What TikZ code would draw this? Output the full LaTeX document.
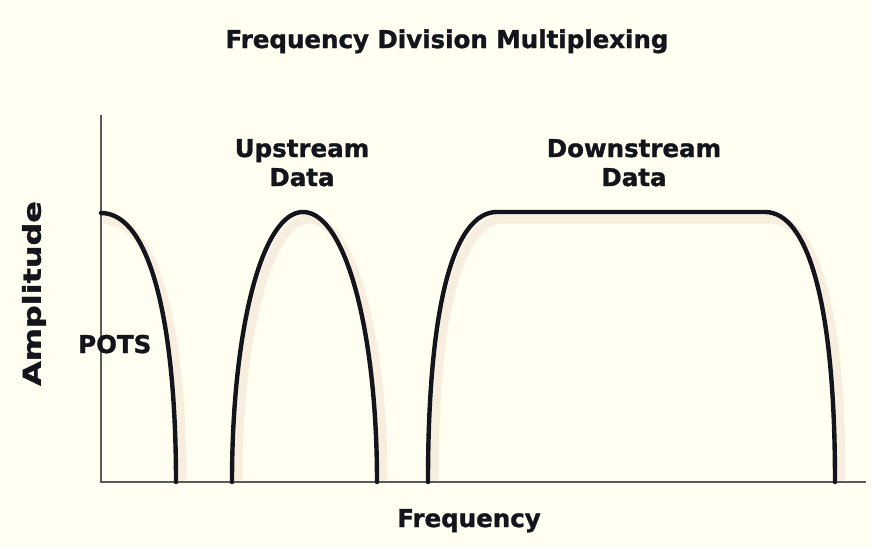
\documentclass[tikz,border=0pt]{standalone}
\usepackage{fontspec}
\setmainfont[BoldFeatures={FakeBold=1.2}]{DejaVu Sans}
\definecolor{paper}{HTML}{FFFEF0}
\definecolor{ink}{HTML}{14141C}
\definecolor{axisgray}{HTML}{5A5A5A}
\definecolor{glow}{HTML}{F8EEDF}
\begin{document}
\begin{tikzpicture}[x=1pt,y=-1pt,
  label/.style={font=\fontsize{24.5}{29}\selectfont\bfseries, text=ink, inner sep=0pt},
  band/.style={draw=ink, line width=4.4pt, line cap=round, line join=round},
  bandshadow/.style={draw=glow, line width=9pt, line cap=round},
  axisline/.style={draw=axisgray, line width=1.6pt}]
  % page
  \fill[paper] (0,0) rectangle (871,547);
  \useasboundingbox (0,0) rectangle (871,547);

  % soft shadows under the spectrum bands
  \begin{scope}[shift={(6,7)}]
    \draw[bandshadow] (101,213) .. controls (150,213) and (176,330) .. (176,470);
    \draw[bandshadow] (232,470) .. controls (232,330) and (262,212) .. (303,212)
                      .. controls (345,212) and (377,330) .. (377,470);
    \draw[bandshadow] (428,470) .. controls (428,300) and (455,212) .. (497,212)
                      -- (765,212) .. controls (807,212) and (835,300) .. (835,470);
  \end{scope}

  % axes
  \coordinate (origin) at (101,482);
  \coordinate (ytop) at (101,115);
  \coordinate (xend) at (866,482);
  \draw[axisline] (ytop) -- (origin) -- (xend);

  % POTS band
  \draw[band] (101,213) .. controls (152,213) and (176,330) .. (176,482);
  % upstream band
  \draw[band] (232,482) .. controls (232,330) and (262,212) .. (303,212)
              .. controls (345,212) and (377,330) .. (377,482);
  % downstream band
  \draw[band] (428,482) .. controls (428,300) and (455,212) .. (497,212)
              -- (765,212) .. controls (807,212) and (835,300) .. (835,482);

  % labels
  \node[label, anchor=base] (title) at (447,48) {Frequency Division Multiplexing};
  \node[label, anchor=base] (up1) at (302,157) {Upstream};
  \node[label, anchor=base] (up2) at (302,186) {Data};
  \node[label, anchor=base] (down1) at (634,157) {Downstream};
  \node[label, anchor=base] (down2) at (634,186) {Data};
  \node[label, anchor=base west] (pots) at (78,353) {POTS};
  \node[label, anchor=base] (freq) at (469,527) {Frequency};
  \node[label, rotate=90] (amp) at (34,293.5) {\scalebox{1.3}[1]{Amplitude}};
\end{tikzpicture}
\end{document}
